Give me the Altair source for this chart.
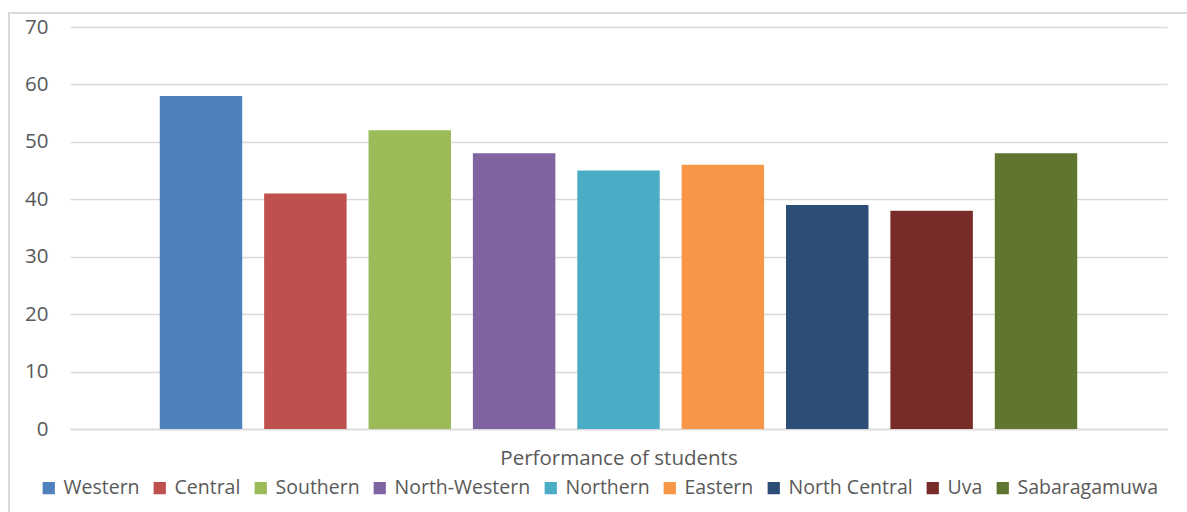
import altair as alt
import pandas as pd

regions = ["Western", "Central", "Southern", "North-Western", "Northern",
           "Eastern", "North Central", "Uva", "Sabaragamuwa"]
values = [58, 41, 52, 48, 45, 46, 39, 38, 48]
colors = ["#4F81BD", "#C0504D", "#9BBB59", "#8064A2", "#4BACC6",
          "#F79646", "#2C4D75", "#772C2A", "#5F7530"]
x_title = "Performance of students"

df = pd.DataFrame({"region": regions, "value": values})

FONT = "Open Sans"
GRAY = "#595959"
GRID = "#d9d9d9"

bars = alt.Chart(df).mark_bar().encode(
    x=alt.X("region:N", sort=regions,
            scale=alt.Scale(paddingInner=0.21, paddingOuter=0.86),
            axis=alt.Axis(title=x_title, labels=False, ticks=False,
                          domain=True, domainColor=GRID, domainWidth=1.5,
                          titleFont=FONT, titleFontSize=20.5, titleFontWeight="normal",
                          titleColor=GRAY, titlePadding=19)),
    y=alt.Y("value:Q", scale=alt.Scale(domain=[0, 70]),
            axis=alt.Axis(title=None, values=list(range(0, 71, 10)),
                          domain=False, ticks=False, grid=True, gridColor=GRID,
                          gridWidth=1.5, labelFont=FONT, labelFontSize=20.5,
                          labelColor=GRAY, labelPadding=22)),
    color=alt.Color("region:N", sort=regions,
                    scale=alt.Scale(domain=regions, range=colors),
                    legend=alt.Legend(title=None, orient="none", direction="horizontal",
                                      legendX=-31, legendY=451, columns=9,
                                      symbolType="square", symbolSize=150,
                                      symbolStrokeWidth=0, symbolOpacity=1,
                                      labelFont=FONT, labelFontSize=19.5,
                                      labelColor=GRAY, labelOffset=5,
                                      columnPadding=10)),
)

border = alt.Chart(df).mark_rect(fill=None, stroke=GRID, strokeWidth=1.5).encode(
    x=alt.value(-61), x2=alt.value(1140), y=alt.value(-14), y2=alt.value(520)
)

chart = alt.layer(border, bars).properties(
    width=1097, height=402,
    padding={"left": 70, "top": 27, "right": 20, "bottom": 83},
    autosize=alt.AutoSizeParams(type="none"),
    background="white",
).configure_view(stroke=None)

chart.save("out.html", embed_options={"renderer": "svg", "actions": False})
